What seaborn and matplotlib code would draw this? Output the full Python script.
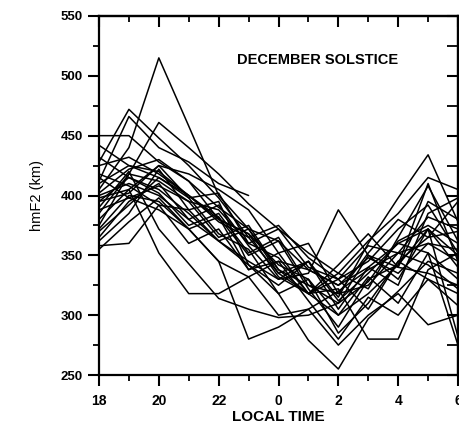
import numpy as np
import pandas as pd
import matplotlib
matplotlib.use("Agg")
import matplotlib.pyplot as plt
import seaborn as sns
from matplotlib.ticker import MultipleLocator

# local time (hours, 24-30 = 0-6 next day)
hours = [18, 19, 20, 21, 22, 23, 24, 25, 26, 27, 28, 29, 30]
nan = np.nan

# hmF2 (km) per night
n01 = [405, 440, 515, 458, 400, 372, 362, 338, 325, 348, 335, 360, 355]
n02 = [428, 472, 448, 425, 398, 365, 375, 348, 330, 345, 372, 392, 352]
n03 = [412, 466, 440, 428, 410, 400, nan, nan, nan, nan, nan, nan, nan]
n04 = [385, 418, 461, 440, 418, 393, 372, 352, 335, 362, 385, 415, 405]
n05 = [450, 450, 428, 412, 390, 372, 338, 325, 310, 328, 362, 375, 360]
n06 = [442, 425, 415, 400, 380, 368, 342, 330, 300, 318, 342, 410, 345]
n07 = [358, 360, 392, 360, 372, 338, 352, 318, 300, 332, 310, 352, 330]
n08 = [398, 405, 352, 318, 318, 332, 345, 338, 325, 340, 360, 372, 350]
n09 = [390, 420, 372, 343, 314, 305, 298, 300, 310, 350, 330, 372, 340]
n10 = [372, 400, 395, 372, 345, 280, 290, 305, 320, 338, 352, 360, 345]
n11 = [395, 415, 405, 385, 362, 342, 318, 279, 255, 297, 320, 345, 335]
n12 = [400, 410, 400, 380, 362, 345, 330, 335, 388, 350, 340, 335, 325]
n13 = [410, 425, 420, 400, 378, 365, 335, 345, 315, 360, 398, 434, 378]
n14 = [365, 395, 410, 380, 392, 358, 330, 345, 305, 340, 325, 385, 398]
n15 = [380, 405, 425, 398, 402, 360, 348, 318, 335, 322, 365, 408, 362]
n16 = [418, 408, 392, 388, 362, 372, 335, 318, 330, 305, 345, 330, 318]
n17 = [432, 415, 402, 375, 385, 352, 365, 325, 318, 352, 380, 365, 370]
n18 = [370, 392, 415, 398, 368, 355, 318, 330, 285, 310, 345, 365, 395]
n19 = [355, 378, 398, 372, 382, 338, 345, 312, 280, 315, 300, 330, 308]
n20 = [402, 422, 430, 412, 380, 368, 332, 318, 322, 280, 280, 338, 352]
n21 = [388, 398, 408, 395, 388, 360, 372, 340, 330, 358, 352, 382, 372]
n22 = [425, 432, 418, 400, 382, 350, 362, 322, 290, 330, 342, 372, 282]
n23 = [362, 385, 422, 388, 395, 342, 325, 345, 312, 335, 360, 352, 275]
n24 = [395, 402, 425, 418, 405, 388, 352, 360, 318, 325, 352, 342, 322]
n25 = [415, 398, 388, 372, 345, 332, 300, 305, 275, 300, 318, 292, 300]
n26 = [375, 418, 412, 395, 365, 375, 338, 318, 342, 368, 340, 395, 380]

nights = [n01, n02, n03, n04, n05, n06, n07, n08, n09, n10, n11, n12, n13,
          n14, n15, n16, n17, n18, n19, n20, n21, n22, n23, n24, n25, n26]

xtick_vals = [18, 20, 22, 24, 26, 28, 30]
xtick_labels = ["18", "20", "22", "0", "2", "4", "6"]
ytick_vals = [250, 300, 350, 400, 450, 500, 550]

rows = []
for i, vals in enumerate(nights):
    for h, v in zip(hours, vals):
        rows.append({"night": i, "time": h, "hmF2": v})
df = pd.DataFrame(rows).dropna()

sns.set_theme(style="white")
plt.rcParams['font.family'] = ['Liberation Sans', 'DejaVu Sans']
plt.rcParams['text.color'] = 'black'
plt.rcParams['axes.labelcolor'] = 'black'
plt.rcParams['xtick.color'] = 'black'
plt.rcParams['ytick.color'] = 'black'

fig = plt.figure(figsize=(4.59, 4.25), dpi=100)
ax = fig.add_axes([99/459, 1-375/425, (458-99)/459, (375-16)/425])

sns.lineplot(data=df, x="time", y="hmF2", units="night", estimator=None,
             color="black", linewidth=1.1, sort=True, ax=ax, legend=False)

ax.set_xlim(18, 30)
ax.set_ylim(250, 550)
ax.set_xticks(xtick_vals)
ax.set_xticklabels(xtick_labels)
ax.set_yticks(ytick_vals)
ax.xaxis.set_minor_locator(MultipleLocator(1))
ax.yaxis.set_minor_locator(MultipleLocator(25))

for s in ax.spines.values():
    s.set_visible(True)
    s.set_color("black")
    s.set_linewidth(1.6)

ax.tick_params(axis="both", which="major", direction="out", length=8, width=1.5,
               colors="black", bottom=True, left=True, top=False, right=False)
ax.tick_params(axis="both", which="minor", direction="out", length=4.5, width=1.3,
               colors="black", bottom=True, left=True, top=False, right=False)
ax.tick_params(axis="x", which="major", pad=6, labelsize=10)
ax.tick_params(axis="y", which="major", pad=3.5, labelsize=9.5)
for lab in ax.get_xticklabels() + ax.get_yticklabels():
    lab.set_fontweight("bold")

# inward ticks on top and right
secx = ax.secondary_xaxis("top")
secx.set_xticks(xtick_vals)
secx.xaxis.set_minor_locator(MultipleLocator(1))
secx.tick_params(which="major", direction="in", length=8, width=1.5, labeltop=False)
secx.tick_params(which="minor", direction="in", length=4.5, width=1.3)
secx.spines["top"].set_linewidth(1.6)
secy = ax.secondary_yaxis("right")
secy.set_yticks(ytick_vals)
secy.yaxis.set_minor_locator(MultipleLocator(25))
secy.tick_params(which="major", direction="in", length=8, width=1.5, labelright=False)
secy.tick_params(which="minor", direction="in", length=8, width=1.3)
secy.spines["right"].set_linewidth(1.6)

ax.set_xlabel("LOCAL TIME", fontsize=11, fontweight="bold", labelpad=1)
ax.set_ylabel("hmF2 (km)", fontsize=10.5, labelpad=12)
ax.text(22.6, 513, "DECEMBER SOLSTICE", fontsize=10.5, fontweight="bold",
        ha="left", va="center")

fig.savefig("out.png", dpi=100)
